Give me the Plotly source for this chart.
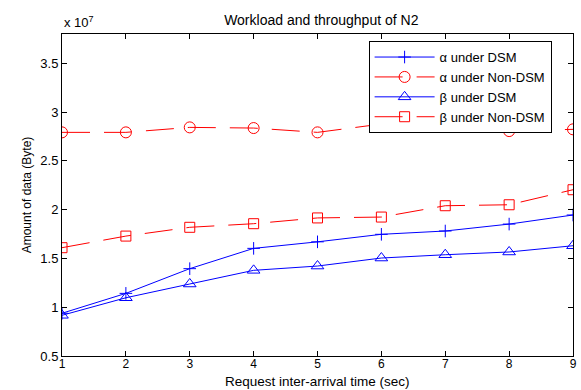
import plotly.graph_objects as go

# Request inter-arrival time (sec)
arrival_time = [1, 2, 3, 4, 5, 6, 7, 8, 9]

# Amount of data, in units of 1e7 bytes
alpha_dsm = [0.938, 1.142, 1.395, 1.603, 1.670, 1.747, 1.781, 1.852, 1.945]
alpha_non_dsm = [2.792, 2.792, 2.843, 2.836, 2.792, 2.877, 2.849, 2.805, 2.823]
beta_dsm = [0.917, 1.097, 1.238, 1.378, 1.422, 1.504, 1.538, 1.566, 1.630]
beta_non_dsm = [1.610, 1.729, 1.819, 1.856, 1.915, 1.924, 2.040, 2.050, 2.204]

SCALE = 1e7
y_ticks = [0.5, 1, 1.5, 2, 2.5, 3, 3.5]
y_tick_labels = ["0.5", "1", "1.5", "2", "2.5", "3", "3.5"]

DASH = "28px,14px"

series = [
    ("\u03b1 under DSM", alpha_dsm, "blue", "solid", "cross-thin-open", 9),
    ("\u03b1 under Non-DSM", alpha_non_dsm, "red", DASH, "circle-open", 11),
    ("\u03b2 under DSM", beta_dsm, "blue", "solid", "triangle-up-open", 11),
    ("\u03b2 under Non-DSM", beta_non_dsm, "red", DASH, "square-open", 10),
]

fig = go.Figure()
for name, vals, color, dash, symbol, size in series:
    fig.add_trace(go.Scatter(
        x=arrival_time,
        y=[v * SCALE for v in vals],
        name=name,
        mode="lines+markers",
        line=dict(color=color, width=1, dash=dash),
        marker=dict(symbol=symbol, size=size, color=color,
                    line=dict(color=color, width=1)),
    ))

axis_common = dict(
    showline=True, linecolor="black", linewidth=1, mirror="ticks",
    ticks="inside", ticklen=5, tickcolor="black", showgrid=False,
    zeroline=False,
)

fig.update_layout(
    width=581, height=390,
    margin=dict(l=62, r=4, t=34, b=34),
    paper_bgcolor="white", plot_bgcolor="white",
    font=dict(family="Liberation Sans, Arial, sans-serif", size=12, color="black"),
    title=dict(text="Workload and throughput of N2", x=0.553, xanchor="center",
               y=0.949, yanchor="middle", font=dict(size=14)),
    xaxis=dict(range=[1, 9], tickvals=arrival_time,
               tickfont=dict(size=12, color="black"), ticklabelstandoff=-3,
               **axis_common),
    yaxis=dict(range=[0.5 * SCALE, 3.8 * SCALE],
               tickvals=[t * SCALE for t in y_ticks], ticktext=y_tick_labels,
               tickfont=dict(size=13, color="black"),
               title=dict(text="Amount of data (Byte)", standoff=6,
                          font=dict(size=12)),
               **axis_common),
    legend=dict(x=0.6, y=0.978, xanchor="left", yanchor="top",
                bgcolor="white", bordercolor="black", borderwidth=1,
                font=dict(size=13), tracegroupgap=0, itemwidth=60),
    showlegend=True,
)

# x-axis title placed just under the tick labels
fig.add_annotation(
    text="Request inter-arrival time (sec)", xref="paper", yref="paper",
    x=0.5, y=0, xanchor="center", yanchor="middle", yshift=-25,
    showarrow=False, font=dict(size=13.5),
)

fig.add_annotation(
    text="x 10<sup>7</sup>", xref="paper", yref="paper", x=0, y=1,
    xanchor="left", yanchor="bottom", yshift=2, showarrow=False,
    font=dict(size=13),
)

fig.write_html("out.html")
